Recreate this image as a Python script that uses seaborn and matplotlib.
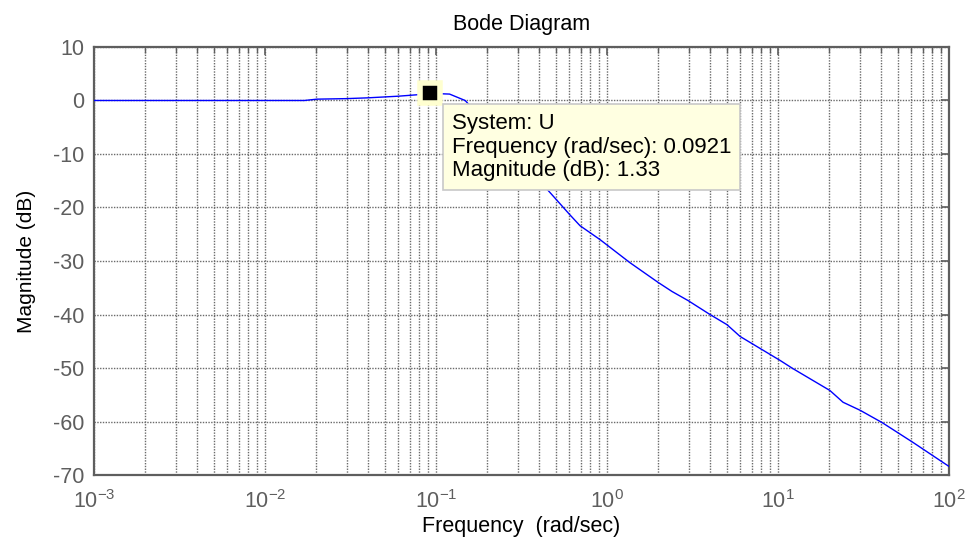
import matplotlib
matplotlib.use("Agg")
import matplotlib.pyplot as plt
import seaborn as sns
import pandas as pd
import numpy as np
from matplotlib.ticker import LogLocator, FixedLocator, NullFormatter

# ---- data ----
freq = [0.001, 0.005, 0.01, 0.017, 0.0201, 0.03, 0.0401, 0.06, 0.0775, 0.0921,
        0.12, 0.148, 0.2, 0.3, 0.464, 0.608, 0.695, 0.91, 1.36, 1.99, 2.40,
        2.98, 4.0, 5.03, 6.0, 10.3, 12.2, 20.1, 24.0, 30.2, 40.6, 61.5, 100.0]
mag_db = [0.0, 0.0, 0.0, 0.0, 0.25, 0.35, 0.5, 0.8, 1.07, 1.33,
          1.2, 0.0, -4.5, -10.5, -17.2, -21.4, -23.4, -26.0, -30.3, -34.0, -35.7,
          -37.4, -40.0, -41.9, -44.1, -48.6, -50.1, -54.2, -56.4, -57.9, -60.2, -63.9, -68.4]
y_ticks = [-70, -60, -50, -40, -30, -20, -10, 0, 10]
x_decades = [1e-3, 1e-2, 1e-1, 1e0, 1e1, 1e2]
tip_freq = 0.0921
tip_mag = 1.33
tip_lines = ["System: U", "Frequency (rad/sec): 0.0921", "Magnitude (dB): 1.33"]
title = "Bode Diagram"
xlabel = "Frequency  (rad/sec)"
ylabel = "Magnitude (dB)"

df = pd.DataFrame({"freq": freq, "mag": mag_db})

sns.set_style("white")
plt.rcParams["font.family"] = ["Liberation Sans", "DejaVu Sans"]
plt.rcParams["mathtext.fontset"] = "custom"
plt.rcParams["mathtext.rm"] = "Liberation Sans"
plt.rcParams["mathtext.it"] = "Liberation Sans:italic"
plt.rcParams["mathtext.bf"] = "Liberation Sans:bold"

fig = plt.figure(figsize=(9.68, 5.42), dpi=100)
ax = fig.add_axes([0.0971, 0.1236, 0.8833, 0.7897])

sns.lineplot(data=df, x="freq", y="mag", ax=ax, color="#0000ff", linewidth=1.0,
             sort=False, zorder=3)

ax.set_xscale("log")
ax.set_xlim(1e-3, 1e2)
ax.set_ylim(-70, 10)
ax.xaxis.set_major_locator(FixedLocator(x_decades))
ax.xaxis.set_minor_locator(LogLocator(base=10, subs=np.arange(2, 10)))
ax.xaxis.set_minor_formatter(NullFormatter())
ax.set_xticks(x_decades)
ax.set_xticklabels([r"$10^{%d}$" % int(np.log10(v)) for v in x_decades])
ax.set_yticks(y_ticks)
ax.set_yticklabels([str(v) for v in y_ticks])

grid_kw = dict(color="#6a6a6a", linestyle=(0, (1, 1)), linewidth=1.0)
ax.grid(True, which="major", axis="both", **grid_kw)
ax.grid(True, which="minor", axis="x", **grid_kw)
ax.set_axisbelow(True)

spine_col = "#5e5e5e"
for s in ax.spines.values():
    s.set_visible(True)
    s.set_color(spine_col)
    s.set_linewidth(1.6)

ax.tick_params(which="both", direction="in", top=True, right=True,
               color=spine_col, labelcolor="#5e5e5e", labelsize=15.5)
ax.tick_params(axis="x", which="major", pad=11)
ax.tick_params(axis="y", which="major", pad=7)
ax.tick_params(which="major", length=6, width=1.2)
ax.tick_params(which="minor", length=4, width=1.0)

ax.set_title(title, fontsize=15.5, color="black", pad=12)
ax.set_xlabel(xlabel, fontsize=15.5, color="black", labelpad=2)
ax.set_ylabel(ylabel, fontsize=15, color="black", labelpad=12)

# data tip marker
ax.plot([tip_freq], [tip_mag], marker="s", markersize=14, markerfacecolor="black",
        markeredgecolor="#ffffd0", markeredgewidth=4, linestyle="none", zorder=6,
        clip_on=False)
# data tip box
ax.annotate("\n".join(tip_lines), xy=(tip_freq, tip_mag), xytext=(22, -20),
            textcoords="offset pixels", ha="left", va="top", fontsize=16,
            color="black", linespacing=1.15, zorder=7,
            bbox=dict(boxstyle="square,pad=0.4", facecolor="#ffffe1",
                      edgecolor="#c8c8c8", linewidth=1.2))

fig.savefig("out.png", dpi=100)
